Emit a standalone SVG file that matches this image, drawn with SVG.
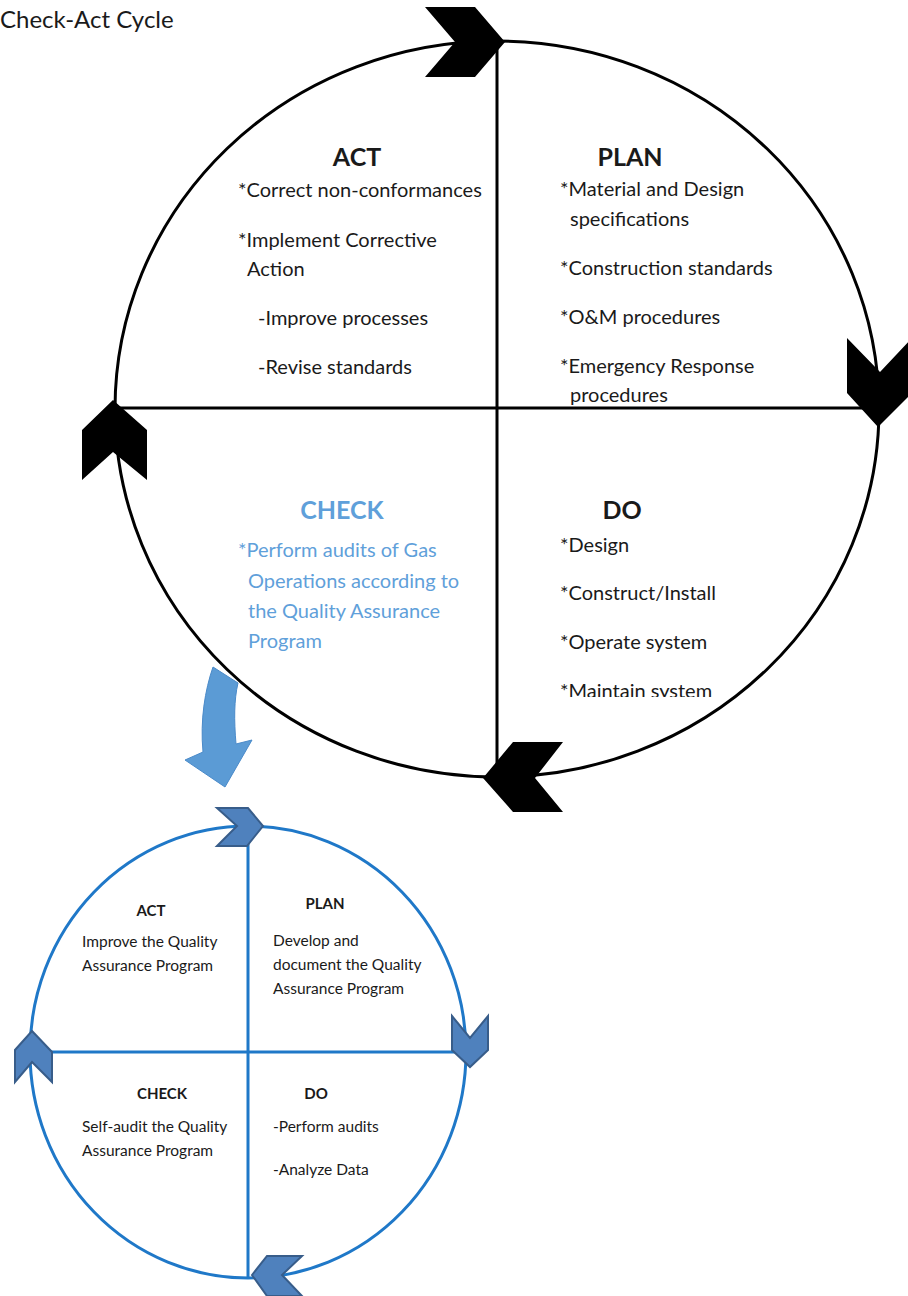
<svg xmlns="http://www.w3.org/2000/svg" width="908" height="1296" viewBox="0 0 908 1296">
<style>
.t{font-family:Lato,"Open Sans","Liberation Sans",sans-serif;fill:#1a1a1a}
.b{font-weight:bold;text-anchor:middle}
.m{font-size:20px}
.mh{font-size:25px}
.s{font-size:15.5px}
.sh{font-size:15px}
.blue{fill:#5fa0da}
.bigline{fill:none;stroke:#000;stroke-width:3}
.smline{fill:none;stroke:#1f78c8;stroke-width:3}
.bch{fill:#000}
.sch{fill:#4f81bd;stroke:#385d8a;stroke-width:2;stroke-linejoin:miter}
</style>
<defs>
<clipPath id="clipMain"><rect x="0" y="0" width="908" height="697"/></clipPath>
</defs>
<rect width="908" height="1296" fill="#fff"/>
<text class="t" x="0" y="28" style="font-size:24px">Check-Act Cycle</text>

<g id="connectors">
<ellipse class="bigline" cx="497" cy="409" rx="382" ry="368"/>
<line class="bigline" x1="497" y1="41" x2="497" y2="778"/>
<line class="bigline" x1="115" y1="408" x2="880" y2="408"/>
<ellipse class="smline" cx="248" cy="1052" rx="218" ry="226"/>
<line class="smline" x1="248" y1="826" x2="248" y2="1278"/>
<line class="smline" x1="30" y1="1052" x2="466" y2="1052"/>
<path id="down-arrow" d="M213,667 C205,690 200,720 203,752 L185,760 L225,787 L252,740 L236,744 C234,720 234,700 238,683 Z" fill="#5b9bd5" stroke="#4a8ac9" stroke-width="1"/>
</g>

<g id="chevrons-main">
<polygon class="bch" points="425,7 475,7 505,42 475,77 425,77 455,42"/>
<polygon class="bch" points="847,338 880,372 912,338 912,393 878,427 847,393"/>
<polygon class="bch" points="113,400 147,430 147,480 113,452 82,480 82,430"/>
<polygon class="bch" points="483,778 513,742 563,742 535,778 563,812 513,812"/>
</g>

<g id="chevrons-small">
<polygon class="sch" points="217,808 248,808 263,826 247,846 217,846 237,826"/>
<polygon class="sch" points="452,1016 470,1038 488,1016 488,1050 470,1067 452,1050"/>
<polygon class="sch" points="32,1031 52,1052 52,1082 32,1062 15,1082 15,1050"/>
<polygon class="sch" points="252,1275 267,1256 302,1256 282,1275 302,1296 267,1296"/>
</g>

<g id="act-main">
<text class="t b mh" x="357" y="166">ACT</text>
<text class="t m" x="238" y="197">*Correct non-conformances</text>
<text class="t m" x="238" y="247">*Implement Corrective</text>
<text class="t m" x="247" y="276">Action</text>
<text class="t m" x="258" y="325">-Improve processes</text>
<text class="t m" x="258" y="374">-Revise standards</text>
</g>

<g id="plan-main">
<text class="t b mh" x="630" y="166">PLAN</text>
<text class="t m" x="560" y="196">*Material and Design</text>
<text class="t m" x="570" y="226">specifications</text>
<text class="t m" x="560" y="275">*Construction standards</text>
<text class="t m" x="560" y="324">*O&amp;M procedures</text>
<text class="t m" x="560" y="373">*Emergency Response</text>
<text class="t m" x="570" y="402">procedures</text>
</g>

<g id="check-main">
<text class="t b mh blue" x="342" y="519">CHECK</text>
<text class="t m blue" x="238" y="557">*Perform audits of Gas</text>
<text class="t m blue" x="248" y="588">Operations according to</text>
<text class="t m blue" x="248" y="618">the Quality Assurance</text>
<text class="t m blue" x="248" y="648">Program</text>
</g>

<g id="do-main" clip-path="url(#clipMain)">
<text class="t b mh" x="622" y="519">DO</text>
<text class="t m" x="560" y="552">*Design</text>
<text class="t m" x="560" y="600">*Construct/Install</text>
<text class="t m" x="560" y="649">*Operate system</text>
<text class="t m" x="560" y="698">*Maintain system</text>
</g>

<g id="act-small">
<text class="t b sh" x="151" y="916">ACT</text>
<text class="t s" x="82" y="947">Improve the Quality</text>
<text class="t s" x="82" y="971">Assurance Program</text>
</g>
<g id="plan-small">
<text class="t b sh" x="325" y="909">PLAN</text>
<text class="t s" x="273" y="946">Develop and</text>
<text class="t s" x="273" y="970">document the Quality</text>
<text class="t s" x="273" y="994">Assurance Program</text>
</g>
<g id="check-small">
<text class="t b sh" x="162" y="1099">CHECK</text>
<text class="t s" x="82" y="1132">Self-audit the Quality</text>
<text class="t s" x="82" y="1156">Assurance Program</text>
</g>
<g id="do-small">
<text class="t b sh" x="316" y="1099">DO</text>
<text class="t s" x="273" y="1132">-Perform audits</text>
<text class="t s" x="273" y="1175">-Analyze Data</text>
</g>
</svg>
